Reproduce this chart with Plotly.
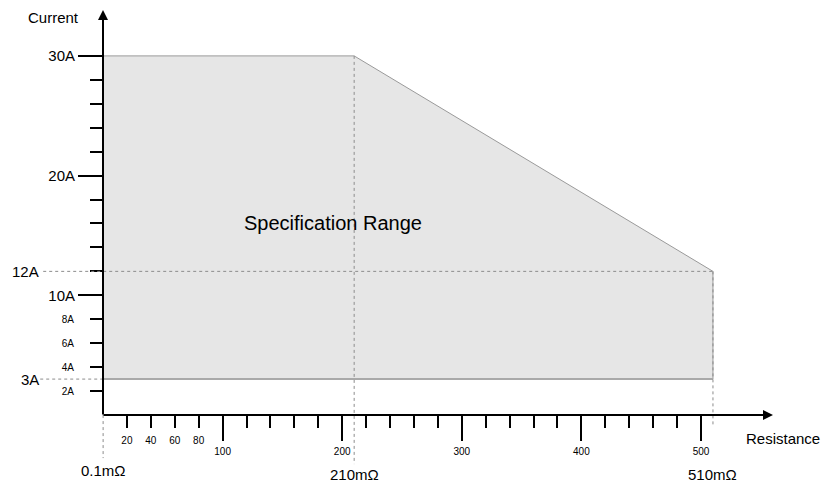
import plotly.graph_objects as go

# ---------------- data ----------------
# Specification range boundary (resistance in mOhm, current in A)
boundary_r = [0.1, 0.1, 210, 510, 510, 0.1]
boundary_i = [3, 30, 30, 12, 3, 3]

# key marker values
key_res = [0.1, 210, 510]
key_res_labels = ["0.1mΩ", "210mΩ", "510mΩ"]
key_res_bottom = [3, 30, 12]          # where each vertical guide meets the region
key_cur = [12, 3]
key_cur_labels = ["12A", "3A"]
key_cur_right = [510, 0.1]            # where each horizontal guide meets the region

# axis ticks
x_major_vals = [100, 200, 300, 400, 500]
x_major_text = ["100", "200", "300", "400", "500"]
x_small_vals = [20, 40, 60, 80]
x_small_text = ["20", "40", "60", "80"]
x_minor_vals = [120, 140, 160, 180, 220, 240, 260, 280,
                320, 340, 360, 380, 420, 440, 460, 480]

y_major_vals = [10, 20, 30]
y_major_text = ["10A", "20A", "30A"]
y_small_vals = [2, 4, 6, 8]
y_small_text = ["2A", "4A", "6A", "8A"]
y_minor_vals = [12, 14, 16, 18, 22, 24, 26, 28]

# ---------------- geometry ----------------
W, H = 823, 483
X0_PX, PX_PER_X = 103, 1.196     # resistance axis
Y0_PX, PX_PER_Y = 415, 11.97     # current axis (from top)
x_range = [-X0_PX / PX_PER_X, (W - X0_PX) / PX_PER_X]
y_range = [-(H - Y0_PX) / PX_PER_Y, Y0_PX / PX_PER_Y]
x_end = (773 - X0_PX) / PX_PER_X
y_end = (Y0_PX - 10) / PX_PER_Y

FONT = "Arial, 'Liberation Sans', Helvetica, sans-serif"

fig = go.Figure()

# shaded specification region
fig.add_trace(go.Scatter(
    x=boundary_r, y=boundary_i, mode="lines", fill="toself",
    fillcolor="#e6e6e6", line=dict(color="#9a9a9a", width=1),
    hoverinfo="skip", showlegend=False))
# lower (3A) edge, slightly heavier
fig.add_trace(go.Scatter(
    x=[boundary_r[0], boundary_r[3]], y=[boundary_i[0], boundary_i[4]],
    mode="lines", line=dict(color="#a9a9a9", width=2),
    hoverinfo="skip", showlegend=False))
# invisible trace to host the secondary (small-label) axes
fig.add_trace(go.Scatter(x=[0], y=[0], xaxis="x2", yaxis="y2", mode="markers",
                         marker=dict(opacity=0), hoverinfo="skip", showlegend=False))

dot = dict(color="#8c8c8c", width=1, dash="dot")
# vertical guides
v_ends = [-3.6, -4.1, -1.0]
for r, top, end in zip(key_res, key_res_bottom, v_ends):
    fig.add_shape(type="line", xref="x", yref="y", x0=r, x1=r, y0=top, y1=end, line=dot)
# horizontal guides
h_starts = [-50.0, -52.5]
for c, right, start in zip(key_cur, key_cur_right, h_starts):
    fig.add_shape(type="line", xref="x", yref="y", x0=start, x1=right, y0=c, y1=c, line=dot)

# axis arrows
fig.add_annotation(x=x_end, y=0, ax=-0.8, ay=0, xref="x", yref="y", axref="x", ayref="y",
                   text="", showarrow=True, arrowhead=2, arrowsize=1, arrowwidth=2,
                   arrowcolor="black")
fig.add_annotation(x=0, y=y_end, ax=0, ay=-0.08, xref="x", yref="y", axref="x", ayref="y",
                   text="", showarrow=True, arrowhead=2, arrowsize=1, arrowwidth=2,
                   arrowcolor="black")

# labels
fig.add_annotation(x=-41, y=33.17, xref="x", yref="y", text="Current", showarrow=False,
                   font=dict(size=15, color="black", family=FONT))
fig.add_annotation(x=568.5, y=-2.0, xref="x", yref="y", text="Resistance", showarrow=False,
                   font=dict(size=15, color="black", family=FONT))
fig.add_annotation(x=191.9, y=16.0, xref="x", yref="y", text="Specification Range",
                   showarrow=False, font=dict(size=20, color="black", family=FONT))
for c, lab in zip(key_cur, key_cur_labels):
    fig.add_annotation(x=-52.0, y=c, xref="x", yref="y", text=lab, showarrow=False,
                       xanchor="right", font=dict(size=15, color="black", family=FONT))
lab_y = [-4.6, -4.95, -4.95]
for r, lab, yy in zip(key_res, key_res_labels, lab_y):
    fig.add_annotation(x=r, y=yy, xref="x", yref="y", text=lab, showarrow=False,
                       font=dict(size=15, color="black", family=FONT))

common_x = dict(range=x_range, domain=[0, 1], anchor="free", position=(H - Y0_PX) / H,
                showline=False, showgrid=False, zeroline=False, ticks="outside",
                tickwidth=2, tickcolor="black", tickmode="array", fixedrange=True)
common_y = dict(range=y_range, domain=[0, 1], anchor="free", position=X0_PX / W,
                showline=False, showgrid=False, zeroline=False, ticks="outside",
                tickwidth=2, tickcolor="black", tickmode="array", fixedrange=True)

fig.update_layout(
    width=W, height=H, margin=dict(l=0, r=0, t=0, b=0),
    paper_bgcolor="white", plot_bgcolor="white", showlegend=False,
    font=dict(family=FONT, color="black"),
    xaxis=dict(**common_x, tickvals=x_major_vals, ticktext=x_major_text, ticklen=25,
               tickfont=dict(size=10, color="black"), ticklabelstandoff=2,
               minor=dict(tickmode="array", tickvals=x_minor_vals, ticks="outside",
                          ticklen=12, tickwidth=2, tickcolor="black", showgrid=False)),
    xaxis2=dict(**common_x, overlaying="x", tickvals=x_small_vals, ticktext=x_small_text,
                ticklen=12, tickfont=dict(size=10, color="black"), ticklabelstandoff=4),
    yaxis=dict(**common_y, tickvals=y_major_vals, ticktext=y_major_text, ticklen=25,
               tickfont=dict(size=15, color="black"), ticklabelstandoff=0,
               minor=dict(tickmode="array", tickvals=y_minor_vals, ticks="outside",
                          ticklen=13, tickwidth=2, tickcolor="black", showgrid=False)),
    yaxis2=dict(**common_y, overlaying="y", tickvals=y_small_vals, ticktext=y_small_text,
                ticklen=13, tickfont=dict(size=10, color="black"), ticklabelstandoff=14),
)

fig.write_html("out.html", config={"displayModeBar": False})
